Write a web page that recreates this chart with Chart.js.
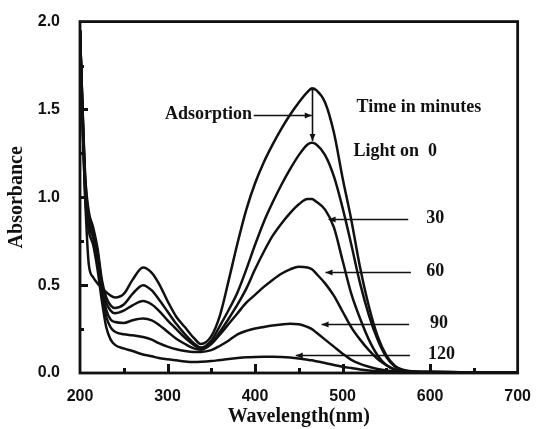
<!DOCTYPE html>
<html>
<head>
<meta charset="utf-8">
<script src="https://cdn.jsdelivr.net/npm/chart.js@4/dist/chart.umd.min.js"></script>
<style>
  body { margin: 0; background: #fff; }
  canvas { display: block; }
</style>
</head>
<body>
<canvas id="uv" width="537" height="429"></canvas>
<script>
// ── Data ─────────────────────────────────────────────────────────────────────
const wavelength = [200, 203, 206, 210, 215, 220, 225, 230, 235, 240, 250, 260, 272, 282, 290, 300, 310, 320, 330, 338,
  350, 360, 370, 380, 390, 400, 410, 420, 430, 440, 450, 460, 465, 470, 480, 490, 500, 510, 520, 530, 540, 550, 560, 570, 580, 600, 650, 700];

const absDark = [1.95, 1.40, 0.98, 0.62, 0.545, 0.51, 0.485, 0.46, 0.44, 0.43, 0.45, 0.53, 0.60, 0.57, 0.51, 0.41, 0.32, 0.26, 0.20, 0.165,
  0.21, 0.33, 0.53, 0.74, 0.93, 1.08, 1.20, 1.30, 1.39, 1.47, 1.54, 1.60, 1.62, 1.61, 1.54, 1.37, 1.11, 0.87, 0.60, 0.38, 0.21, 0.10, 0.04, 0.017, 0.009, 0.005, 0.004, 0.003];
const absLight0 = [1.95, 1.50, 1.12, 0.92, 0.83, 0.71, 0.53, 0.43, 0.385, 0.37, 0.39, 0.45, 0.50, 0.47, 0.42, 0.35, 0.28, 0.22, 0.17, 0.145,
  0.185, 0.27, 0.36, 0.46, 0.59, 0.73, 0.86, 0.97, 1.07, 1.16, 1.24, 1.30, 1.31, 1.30, 1.24, 1.12, 0.94, 0.73, 0.51, 0.33, 0.19, 0.09, 0.035, 0.014, 0.008, 0.005, 0.004, 0.003];
const abs30 = [1.95, 1.49, 1.10, 0.90, 0.81, 0.69, 0.51, 0.40, 0.355, 0.34, 0.355, 0.385, 0.41, 0.39, 0.355, 0.30, 0.25, 0.20, 0.16, 0.138,
  0.17, 0.235, 0.31, 0.39, 0.48, 0.59, 0.69, 0.78, 0.85, 0.91, 0.96, 0.99, 0.99, 0.975, 0.93, 0.83, 0.64, 0.45, 0.31, 0.19, 0.10, 0.045, 0.018, 0.01, 0.007, 0.005, 0.004, 0.003];
const abs60 = [1.95, 1.47, 1.07, 0.87, 0.79, 0.66, 0.48, 0.36, 0.305, 0.29, 0.285, 0.30, 0.31, 0.30, 0.275, 0.235, 0.195, 0.165, 0.14, 0.132,
  0.165, 0.22, 0.28, 0.34, 0.40, 0.445, 0.49, 0.53, 0.565, 0.59, 0.605, 0.60, 0.59, 0.565, 0.51, 0.44, 0.35, 0.26, 0.19, 0.13, 0.08, 0.045, 0.02, 0.01, 0.007, 0.005, 0.004, 0.003];
const abs90 = [1.95, 1.45, 1.04, 0.85, 0.77, 0.63, 0.45, 0.32, 0.26, 0.235, 0.22, 0.215, 0.205, 0.19, 0.17, 0.15, 0.135, 0.125, 0.12, 0.12,
  0.13, 0.155, 0.185, 0.22, 0.24, 0.253, 0.262, 0.27, 0.276, 0.28, 0.278, 0.262, 0.25, 0.23, 0.19, 0.15, 0.11, 0.075, 0.052, 0.036, 0.023, 0.014, 0.009, 0.007, 0.006, 0.005, 0.004, 0.003];
const abs120 = [1.95, 1.42, 1.00, 0.81, 0.73, 0.59, 0.41, 0.26, 0.19, 0.16, 0.14, 0.125, 0.105, 0.095, 0.085, 0.078, 0.072, 0.066, 0.063, 0.064,
  0.068, 0.074, 0.08, 0.085, 0.089, 0.091, 0.092, 0.092, 0.091, 0.088, 0.083, 0.076, 0.072, 0.067, 0.057, 0.046, 0.036, 0.028, 0.02, 0.014, 0.01, 0.008, 0.006, 0.005, 0.005, 0.004, 0.003, 0.003];

const seriesNames = ['Adsorption', 'Light on 0', '30', '60', '90', '120'];
const seriesData  = [absDark, absLight0, abs30, abs60, abs90, abs120];

// tick positions for the inward tick marks
const xMajor = [300, 400, 500, 600];
const xMinor = [250, 350, 450, 550, 650];
const yMajor = [0.5, 1.0, 1.5];
const yMinor = [0.25, 0.75, 1.25, 1.75];

// labels + arrows (data units)
const notes = [
  { text: 'Time in minutes', x: 516, y: 1.51, align: 'left' },
  { text: 'Light on  0',     x: 512.5, y: 1.263, align: 'left' },
  { text: '30',  x: 595.5, y: 0.878, align: 'left', arrow: [575, 484] },
  { text: '60',  x: 595.5, y: 0.576, align: 'left', arrow: [578, 480.5] },
  { text: '90',  x: 600,   y: 0.28,  align: 'left', arrow: [576, 476] },
  { text: '120', x: 597.5, y: 0.104, align: 'left', arrow: [577, 446.5] },
  { text: 'Adsorption', x: 396.5, y: 1.471, align: 'right', arrow: [398.5, 464.8] }
];

const INK = '#111';
const SERIF = '"Liberation Serif", "Times New Roman", serif';
const SANS  = '"Liberation Sans", Arial, sans-serif';

function arrowHead(ctx, x, y, dx, dy) {
  const len = 7, w = 3;
  ctx.beginPath();
  ctx.moveTo(x, y);
  ctx.lineTo(x - dx * len - dy * w, y - dy * len + dx * w);
  ctx.lineTo(x - dx * len + dy * w, y - dy * len - dx * w);
  ctx.closePath();
  ctx.fill();
}

const framePlugin = {
  id: 'frame',
  afterDatasetsDraw(chart) {
    const { ctx, chartArea: a, scales } = chart;
    const sx = scales.x, sy = scales.y;
    ctx.save();
    ctx.strokeStyle = INK;
    ctx.fillStyle = INK;

    // inward ticks
    xMajor.forEach(v => ctx.fillRect(Math.round(sx.getPixelForValue(v)) - 1, a.bottom - 9, 3, 9));
    xMinor.forEach(v => ctx.fillRect(Math.round(sx.getPixelForValue(v)) - 1, a.bottom - 5, 3, 5));
    yMajor.forEach(v => ctx.fillRect(a.left, Math.round(sy.getPixelForValue(v)) - 1, 8, 3));
    yMinor.forEach(v => ctx.fillRect(a.left, Math.round(sy.getPixelForValue(v)) - 1, 4, 3));

    // box
    ctx.lineWidth = 2.8;
    ctx.strokeRect(a.left, a.top, a.right - a.left, a.bottom - a.top);

    // annotations
    ctx.font = 'bold 18px ' + SERIF;
    ctx.textBaseline = 'middle';
    ctx.lineWidth = 1.6;
    notes.forEach(n => {
      const py = sy.getPixelForValue(n.y);
      ctx.textAlign = n.align;
      ctx.fillText(n.text, sx.getPixelForValue(n.x), py);
      if (n.arrow) {
        const x1 = sx.getPixelForValue(n.arrow[0]);
        const x2 = sx.getPixelForValue(n.arrow[1]);
        const ay = Math.round(py) + 0.5;
        ctx.beginPath(); ctx.moveTo(x1, ay); ctx.lineTo(x2, ay); ctx.stroke();
        arrowHead(ctx, x2, ay, Math.sign(x2 - x1), 0);
      }
    });

    // vertical adsorption arrow between the two top peaks
    const vx = Math.round(sx.getPixelForValue(464.8)) + 0.5;
    const y1 = sy.getPixelForValue(1.613), y2 = sy.getPixelForValue(1.32);
    ctx.beginPath(); ctx.moveTo(vx, y1); ctx.lineTo(vx, y2); ctx.stroke();
    ctx.beginPath(); ctx.moveTo(vx - 3, y1); ctx.lineTo(vx + 3, y1); ctx.stroke();
    arrowHead(ctx, vx, y2, 0, 1);
    ctx.restore();
  }
};

new Chart(document.getElementById('uv'), {
  type: 'line',
  data: {
    datasets: seriesData.map((arr, i) => ({
      label: seriesNames[i],
      data: wavelength.map((w, k) => ({ x: w, y: arr[k] })),
      borderColor: INK, borderWidth: 2.5, pointRadius: 0,
      cubicInterpolationMode: 'monotone', fill: false
    }))
  },
  options: {
    responsive: false, animation: false,
    layout: { padding: { top: 20, right: 17, left: 0, bottom: 0 } },
    plugins: { legend: { display: false }, tooltip: { enabled: false } },
    scales: {
      x: {
        type: 'linear', min: 200, max: 700,
        grid: { display: false }, border: { display: false },
        ticks: { stepSize: 100, color: INK, padding: 6, maxRotation: 0, font: { family: SANS, size: 16, weight: 'bold' } },
        title: { display: true, text: 'Wavelength(nm)', color: INK, padding: { top: 0, bottom: 0 }, font: { family: SERIF, size: 20, weight: 'bold' } },
        afterFit: s => { s.height = 56; }
      },
      y: {
        min: 0, max: 2,
        grid: { display: false }, border: { display: false },
        ticks: { stepSize: 0.5, color: INK, padding: 12, callback: v => v.toFixed(1), font: { family: SANS, size: 16, weight: 'bold' } },
        title: { display: true, text: 'Absorbance', color: INK, padding: { top: 5, bottom: 0 }, font: { family: SERIF, size: 20, weight: 'bold' } },
        afterFit: s => { s.width = 80; }
      }
    }
  },
  plugins: [framePlugin]
});
</script>
</body>
</html>
